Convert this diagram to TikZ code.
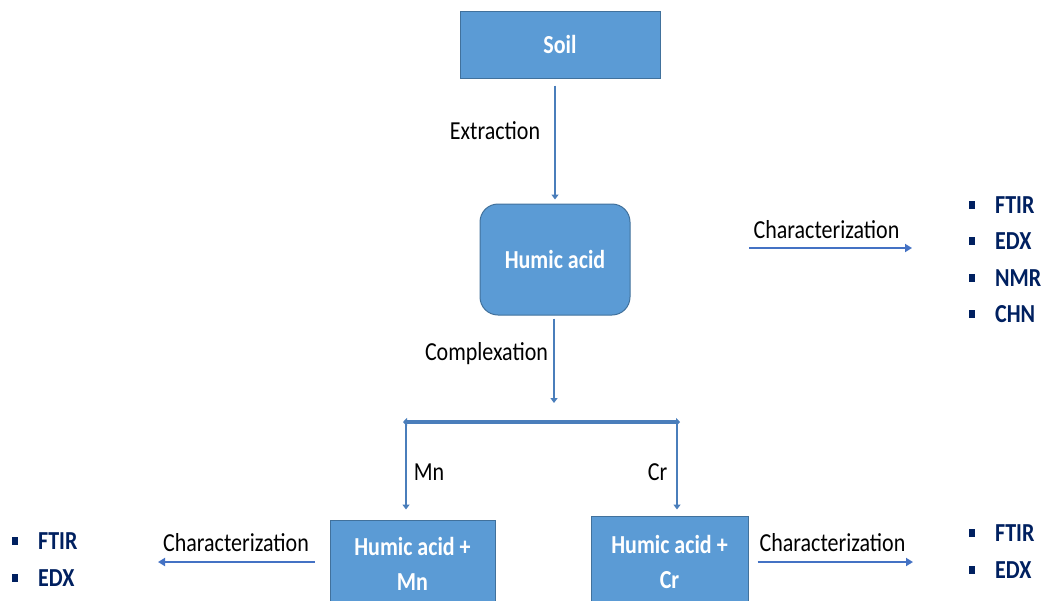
\documentclass[tikz,border=0pt]{standalone}
\usepackage{fontspec}
\setmainfont{Carlito}
\usetikzlibrary{arrows.meta}
\definecolor{boxfill}{HTML}{5B9BD5}
\definecolor{boxline}{HTML}{41719C}
\definecolor{flow}{HTML}{4A7EBB}
\definecolor{charc}{HTML}{4472C4}
\definecolor{navy}{HTML}{002060}
\newcommand{\vs}[1]{\scalebox{1}[1.18]{#1}}
\newcommand{\sq}{\rule[4.5pt]{6pt}{7.5pt}\hspace{20pt}}
\begin{document}
\begin{tikzpicture}[x=1pt,y=-1pt,
  box/.style={draw=boxline, line width=1pt, fill=boxfill, text=white,
    font=\fontsize{22}{35}\selectfont\bfseries, align=center, inner sep=0pt},
  boxtext/.style={text=white, font=\fontsize{22}{35}\selectfont\bfseries, align=center, inner sep=0pt},
  flowarrow/.style={draw=flow, line width=2.5pt, -{Triangle[width=7pt,length=5pt]}},
  bararrow/.style={draw=flow, line width=3.5pt, {Triangle[width=8pt,length=4pt]}-{Triangle[width=8pt,length=4pt]}},
  chararrow/.style={draw=charc, line width=2pt, -{Triangle[width=8pt,length=7pt]}},
  lbl/.style={text=black, font=\fontsize{22}{26}\selectfont, anchor=base, inner sep=0pt},
  bul/.style={text=navy, font=\fontsize{22}{26}\selectfont\bfseries, anchor=base west, inner sep=0pt}
]
\useasboundingbox (0,0) rectangle (1048,600);

% boxes
\node[box, minimum width=200pt, minimum height=67pt] (soil) at (560,44.5) {\vs{Soil}};
\node[box, rounded corners=18pt, minimum width=150pt, minimum height=111pt] (ha) at (555,259.5) {\vs{Humic acid}};
\node[box, minimum width=165pt, minimum height=100pt] (mn) at (412.5,570) {};
\node[boxtext] (mnt) at (412.5,563.5) {\vs{Humic acid +}\\\vs{Mn}};
\node[box, minimum width=157pt, minimum height=104pt] (cr) at (669.5,568) {};
\node[boxtext] (crt) at (669.5,561.5) {\vs{Humic acid +}\\\vs{Cr}};

% coordinates
\coordinate (top) at (554,403);
\coordinate (barL) at (403,422);
\coordinate (barR) at (680,422);
\coordinate (dl) at (406,422);
\coordinate (dr) at (677,422);
\coordinate (c1a) at (749,248);
\coordinate (c1b) at (912,248);
\coordinate (c2) at (158,562);
\coordinate (c3) at (913,562);

% flow arrows
\draw[flowarrow, shorten <=7pt, shorten >=4pt] (soil.south -| ha.north) -- (ha.north);
\draw[flowarrow, shorten <=3pt] (ha.south -| top) -- (top);
\draw[bararrow] (barL) -- (barR);
\draw[flowarrow, shorten >=10pt] (dl) -- (dl |- mn.north);
\draw[flowarrow, shorten >=6pt] (dr) -- (dr |- cr.north);

% characterization arrows
\draw[chararrow] (c1a) -- (c1b);
\draw[chararrow, shorten <=15pt] (mn.west |- c2) -- (c2);
\draw[chararrow, shorten <=9pt] (cr.east |- c3) -- (c3);

% labels
\node[lbl] (lext) at (495,139.5) {\vs{Extraction}};
\node[lbl] (lcom) at (486.5,360.5) {\vs{Complexation}};
\node[lbl] (lmn) at (429,480.5) {\vs{Mn}};
\node[lbl] (lcr) at (657.5,480.5) {\vs{Cr}};
\node[lbl] (lc1) at (826.5,238.5) {\vs{Characterization}};
\node[lbl] (lc2) at (236,551.5) {\vs{Characterization}};
\node[lbl] (lc3) at (832.5,551.5) {\vs{Characterization}};

% bullets
\node[bul] (b1) at (969,213) {\sq\vs{FTIR}};
\node[bul] (b2) at (969,249) {\sq\vs{EDX}};
\node[bul] (b3) at (969,286) {\sq\vs{NMR}};
\node[bul] (b4) at (969,322) {\sq\vs{CHN}};
\node[bul] (b5) at (12,549) {\sq\vs{FTIR}};
\node[bul] (b6) at (12,586) {\sq\vs{EDX}};
\node[bul] (b7) at (969,541) {\sq\vs{FTIR}};
\node[bul] (b8) at (969,578) {\sq\vs{EDX}};
\end{tikzpicture}
\end{document}
